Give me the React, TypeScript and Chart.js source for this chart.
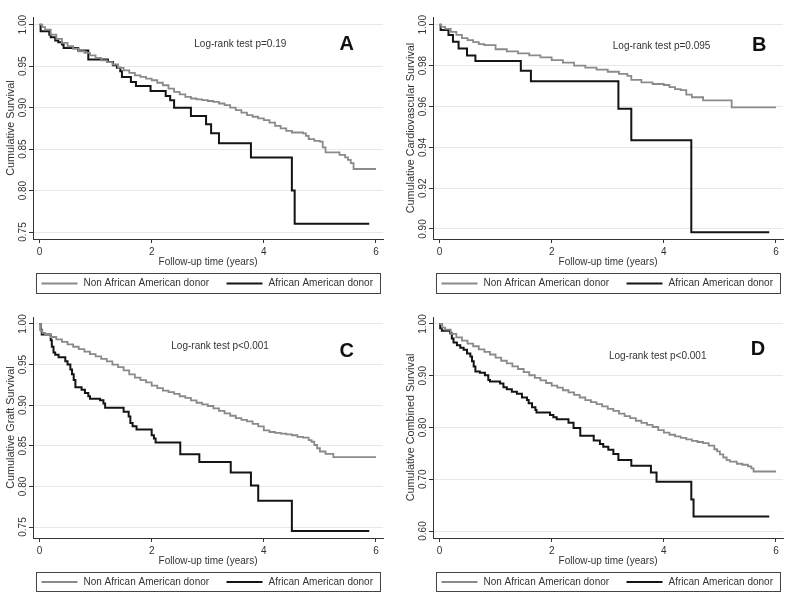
import React, { useEffect, useRef } from 'react';
import { Chart, registerables } from 'chart.js';

Chart.register(...registerables);
Chart.defaults.font.family = "'Liberation Sans', Arial, sans-serif";
Chart.defaults.color = '#333';

// ---------- shared labels / ticks ----------
const legendLabels = ['Non African American donor', 'African American donor'];
const xTitle = 'Follow-up time (years)';
const xTicks = [0, 2, 4, 6];
const yTicksA = [0.75, 0.8, 0.85, 0.9, 0.95, 1.0];
const yTicksB = [0.9, 0.92, 0.94, 0.96, 0.98, 1.0];
const yTicksC = [0.75, 0.8, 0.85, 0.9, 0.95, 1.0];
const yTicksD = [0.6, 0.7, 0.8, 0.9, 1.0];

// ---------- Panel A: overall survival ----------
const aNonAA: [number, number][] = [
  [0, 1], [0.05, 0.997], [0.1, 0.994], [0.2, 0.988], [0.3, 0.983], [0.4, 0.978], [0.5, 0.974],
  [0.6, 0.971], [0.7, 0.968], [0.8, 0.966], [0.9, 0.963], [1.0, 0.96], [1.1, 0.957], [1.2, 0.955],
  [1.3, 0.952], [1.4, 0.948], [1.5, 0.945], [1.6, 0.942], [1.7, 0.939], [1.8, 0.937], [1.9, 0.935],
  [2.0, 0.933], [2.1, 0.93], [2.2, 0.927], [2.3, 0.923], [2.4, 0.919], [2.5, 0.916], [2.6, 0.913],
  [2.7, 0.911], [2.8, 0.91], [2.9, 0.909], [3.0, 0.908], [3.1, 0.907], [3.2, 0.905], [3.3, 0.903],
  [3.4, 0.9], [3.5, 0.897], [3.6, 0.894], [3.7, 0.891], [3.8, 0.889], [3.9, 0.887], [4.0, 0.885],
  [4.1, 0.882], [4.2, 0.878], [4.3, 0.875], [4.4, 0.872], [4.5, 0.87], [4.7, 0.869], [4.75, 0.866],
  [4.8, 0.862], [4.9, 0.86], [5.0, 0.859], [5.05, 0.852], [5.1, 0.846], [5.35, 0.843], [5.45, 0.84],
  [5.5, 0.837], [5.55, 0.833], [5.6, 0.826], [6.0, 0.826],
];
const aAA: [number, number][] = [
  [0, 1], [0.02, 0.992], [0.175, 0.988], [0.2, 0.985], [0.28, 0.981], [0.335, 0.979], [0.4, 0.976],
  [0.43, 0.972], [0.69, 0.969], [0.87, 0.958], [1.22, 0.955], [1.31, 0.951], [1.38, 0.948],
  [1.44, 0.944], [1.47, 0.937], [1.63, 0.931], [1.72, 0.926], [1.98, 0.92], [2.25, 0.914],
  [2.33, 0.909], [2.4, 0.9], [2.7, 0.89], [2.97, 0.88], [3.06, 0.869], [3.2, 0.857], [3.77, 0.84],
  [4.5, 0.8], [4.55, 0.76], [5.88, 0.76],
];

// ---------- Panel B: cardiovascular survival ----------
const bNonAA: [number, number][] = [
  [0, 1], [0.03, 0.999], [0.1, 0.998], [0.2, 0.9965], [0.3, 0.995], [0.4, 0.9935], [0.5, 0.9925],
  [0.6, 0.9915], [0.7, 0.9905], [0.8, 0.99], [1.0, 0.988], [1.2, 0.987], [1.4, 0.986], [1.6, 0.985],
  [1.8, 0.984], [2.0, 0.9827], [2.2, 0.9815], [2.4, 0.98], [2.6, 0.979], [2.8, 0.978], [3.0, 0.977],
  [3.2, 0.976], [3.35, 0.975], [3.42, 0.973], [3.6, 0.9718], [3.8, 0.971], [4.0, 0.9705],
  [4.1, 0.9695], [4.2, 0.9685], [4.3, 0.968], [4.4, 0.9658], [4.5, 0.9645], [4.7, 0.963],
  [5.21, 0.9595], [6.0, 0.9595],
];
const bAA: [number, number][] = [
  [0, 1], [0.02, 0.9974], [0.16, 0.995], [0.24, 0.9917], [0.34, 0.9884], [0.49, 0.985],
  [0.64, 0.9822], [1.45, 0.9775], [1.63, 0.9724], [3.19, 0.9589], [3.42, 0.9434], [4.49, 0.8984],
  [5.88, 0.8984],
];

// ---------- Panel C: graft survival ----------
const cNonAA: [number, number][] = [
  [0, 1], [0.02, 0.992], [0.05, 0.989], [0.1, 0.987], [0.2, 0.984], [0.3, 0.981], [0.4, 0.978],
  [0.5, 0.975], [0.6, 0.972], [0.7, 0.969], [0.8, 0.966], [0.9, 0.963], [1.0, 0.96], [1.1, 0.957],
  [1.2, 0.954], [1.3, 0.95], [1.4, 0.947], [1.5, 0.943], [1.6, 0.938], [1.7, 0.934], [1.8, 0.931],
  [1.9, 0.928], [2.0, 0.924], [2.1, 0.921], [2.2, 0.918], [2.3, 0.916], [2.4, 0.914], [2.5, 0.911],
  [2.6, 0.909], [2.7, 0.906], [2.8, 0.903], [2.9, 0.901], [3.0, 0.899], [3.1, 0.896], [3.2, 0.893],
  [3.3, 0.89], [3.4, 0.887], [3.5, 0.884], [3.6, 0.882], [3.7, 0.88], [3.8, 0.877], [3.9, 0.874],
  [4.0, 0.869], [4.1, 0.867], [4.2, 0.866], [4.3, 0.865], [4.4, 0.864], [4.5, 0.863], [4.6, 0.861],
  [4.7, 0.86], [4.8, 0.857], [4.85, 0.855], [4.9, 0.851], [4.95, 0.847], [5.0, 0.843], [5.1, 0.84],
  [5.24, 0.836], [6.0, 0.836],
];
const cAA: [number, number][] = [
  [0, 1], [0.02, 0.993], [0.04, 0.987], [0.2, 0.98], [0.22, 0.972], [0.25, 0.965], [0.28, 0.962],
  [0.34, 0.959], [0.46, 0.954], [0.5, 0.95], [0.55, 0.944], [0.58, 0.938], [0.61, 0.931],
  [0.64, 0.922], [0.75, 0.919], [0.81, 0.915], [0.87, 0.911], [0.9, 0.908], [1.08, 0.906],
  [1.14, 0.902], [1.17, 0.897], [1.5, 0.892], [1.59, 0.886], [1.62, 0.878], [1.66, 0.874],
  [1.73, 0.87], [2.0, 0.863], [2.04, 0.859], [2.07, 0.854], [2.51, 0.8395], [2.85, 0.83],
  [3.41, 0.817], [3.77, 0.801], [3.9, 0.7824], [4.5, 0.745], [5.88, 0.745],
];

// ---------- Panel D: combined survival ----------
const dNonAA: [number, number][] = [
  [0, 1], [0.05, 0.993], [0.1, 0.989], [0.2, 0.981], [0.3, 0.974], [0.4, 0.968], [0.5, 0.962],
  [0.6, 0.957], [0.7, 0.951], [0.8, 0.946], [0.9, 0.941], [1.0, 0.935], [1.1, 0.929], [1.2, 0.924],
  [1.3, 0.918], [1.4, 0.913], [1.5, 0.907], [1.6, 0.901], [1.7, 0.896], [1.8, 0.891], [1.9, 0.886],
  [2.0, 0.881], [2.1, 0.877], [2.2, 0.872], [2.3, 0.868], [2.4, 0.863], [2.5, 0.858], [2.6, 0.853],
  [2.7, 0.849], [2.8, 0.845], [2.9, 0.841], [3.0, 0.836], [3.1, 0.832], [3.2, 0.827], [3.3, 0.822],
  [3.4, 0.818], [3.5, 0.813], [3.6, 0.809], [3.7, 0.805], [3.8, 0.801], [3.9, 0.795], [4.0, 0.79],
  [4.1, 0.786], [4.2, 0.783], [4.3, 0.78], [4.4, 0.777], [4.5, 0.774], [4.6, 0.772], [4.7, 0.77],
  [4.8, 0.765], [4.9, 0.758], [4.95, 0.754], [5.0, 0.748], [5.06, 0.742], [5.12, 0.737],
  [5.18, 0.734], [5.3, 0.73], [5.4, 0.728], [5.5, 0.725], [5.56, 0.721], [5.6, 0.715], [6.0, 0.715],
];
const dAA: [number, number][] = [
  [0, 1], [0.012, 0.9916], [0.042, 0.987], [0.19, 0.982], [0.22, 0.972], [0.25, 0.964], [0.31, 0.959],
  [0.37, 0.954], [0.43, 0.95], [0.49, 0.943], [0.55, 0.937], [0.58, 0.928], [0.61, 0.918],
  [0.64, 0.908], [0.72, 0.906], [0.81, 0.901], [0.87, 0.892], [0.9, 0.889], [1.08, 0.885],
  [1.14, 0.878], [1.2, 0.874], [1.29, 0.869], [1.38, 0.865], [1.47, 0.858], [1.56, 0.853],
  [1.59, 0.847], [1.65, 0.839], [1.71, 0.834], [1.73, 0.829], [1.97, 0.824], [2.03, 0.82],
  [2.09, 0.816], [2.3, 0.809], [2.39, 0.799], [2.51, 0.784], [2.75, 0.775], [2.86, 0.768],
  [2.92, 0.763], [3.01, 0.757], [3.1, 0.749], [3.19, 0.737], [3.42, 0.726], [3.77, 0.713],
  [3.87, 0.695], [4.49, 0.661], [4.53, 0.628], [5.88, 0.628],
];

const GRAY = '#8a8a8a';
const BLACK = '#141414';
const AXIS = '#333333';
const GRID = '#e2eaea';

type PanelCfg = {
  letter: string;
  yTitle: string;
  pText: string;
  gray: [number, number][];
  black: [number, number][];
  yTicks: number[];
  yDecimals: number;
  yMin: number;
  yMax: number;
  pAt: [number, number];
  letterAt: [number, number];
  left: number;
  top: number;
  height: number;
  areaTop: number;
  areaBottom: number;
  legendTop: number;
  legendH: number;
};

const panels: PanelCfg[] = [
  {
    letter: 'A', yTitle: 'Cumulative Survival', pText: 'Log-rank test p=0.19', gray: aNonAA, black: aAA,
    yTicks: yTicksA, yDecimals: 2, yMin: 0.7416, yMax: 1.0093, pAt: [3.58, 0.9767], letterAt: [5.48, 0.9767],
    left: 0, top: 0, height: 300, areaTop: 17, areaBottom: 239, legendTop: 273, legendH: 20,
  },
  {
    letter: 'B', yTitle: 'Cumulative Cardiovascular Survival', pText: 'Log-rank test p=0.095', gray: bNonAA, black: bAA,
    yTicks: yTicksB, yDecimals: 2, yMin: 0.8951, yMax: 1.0038, pAt: [3.96, 0.9896], letterAt: [5.7, 0.99],
    left: 400, top: 0, height: 300, areaTop: 17, areaBottom: 239, legendTop: 273, legendH: 20,
  },
  {
    letter: 'C', yTitle: 'Cumulative Graft Survival', pText: 'Log-rank test p<0.001', gray: cNonAA, black: cAA,
    yTicks: yTicksC, yDecimals: 2, yMin: 0.7365, yMax: 1.0086, pAt: [3.22, 0.973], letterAt: [5.48, 0.966],
    left: 0, top: 300, height: 312, areaTop: 17, areaBottom: 238, legendTop: 272, legendH: 19,
  },
  {
    letter: 'D', yTitle: 'Cumulative Combined Survival', pText: 'Log-rank test p<0.001', gray: dNonAA, black: dAA,
    yTicks: yTicksD, yDecimals: 2, yMin: 0.5865, yMax: 1.0135, pAt: [3.89, 0.937], letterAt: [5.68, 0.95],
    left: 400, top: 300, height: 312, areaTop: 17, areaBottom: 238, legendTop: 272, legendH: 19,
  },
];

const X_SCALE_H = 29;

function makeOverlay(cfg: PanelCfg) {
  return {
    id: 'overlay' + cfg.letter,
    afterDraw(chart: any) {
      const ctx = chart.ctx as CanvasRenderingContext2D;
      const xs = chart.scales.x;
      const ys = chart.scales.y;
      ctx.save();
      // log-rank annotation
      ctx.fillStyle = '#333';
      ctx.font = "10px 'Liberation Sans', Arial, sans-serif";
      ctx.textAlign = 'center';
      ctx.textBaseline = 'middle';
      ctx.fillText(cfg.pText, xs.getPixelForValue(cfg.pAt[0]), ys.getPixelForValue(cfg.pAt[1]));
      // panel letter
      ctx.fillStyle = '#111';
      ctx.font = "bold 20px 'Liberation Sans', Arial, sans-serif";
      ctx.fillText(cfg.letter, xs.getPixelForValue(cfg.letterAt[0]), ys.getPixelForValue(cfg.letterAt[1]));

      // legend box
      const bx = 36.5;
      const bw = 344;
      const by = cfg.legendTop + 0.5;
      const bh = cfg.legendH;
      ctx.strokeStyle = '#444';
      ctx.lineWidth = 1;
      ctx.strokeRect(bx, by, bw, bh);
      const my = by + bh / 2;
      const items = [
        { color: GRAY, width: 1.8, x0: bx + 5, label: legendLabels[0] },
        { color: BLACK, width: 2, x0: bx + 190, label: legendLabels[1] },
      ];
      ctx.font = "10px 'Liberation Sans', Arial, sans-serif";
      ctx.textAlign = 'left';
      for (const it of items) {
        ctx.strokeStyle = it.color;
        ctx.lineWidth = it.width;
        ctx.beginPath();
        ctx.moveTo(it.x0, my);
        ctx.lineTo(it.x0 + 36, my);
        ctx.stroke();
        ctx.fillStyle = '#333';
        ctx.fillText(it.label, it.x0 + 42, my);
      }
      ctx.restore();
    },
  };
}

function Panel({ cfg }: { cfg: PanelCfg }) {
  const ref = useRef<HTMLCanvasElement>(null);
  useEffect(() => {
    const canvas = ref.current!;
    const xScaleBottom = cfg.areaBottom + X_SCALE_H;
    const chart = new Chart(canvas, {
      type: 'line',
      data: {
        datasets: [
          {
            label: legendLabels[0],
            data: cfg.gray.map(([x, y]) => ({ x, y })),
            borderColor: GRAY,
            borderWidth: 1.8,
            stepped: 'before',
            pointRadius: 0,
            fill: false,
          },
          {
            label: legendLabels[1],
            data: cfg.black.map(([x, y]) => ({ x, y })),
            borderColor: BLACK,
            borderWidth: 2,
            stepped: 'before',
            pointRadius: 0,
            fill: false,
          },
        ],
      },
      options: {
        animation: false,
        responsive: false,
        events: [],
        layout: {
          padding: { left: 0, right: 17, top: cfg.areaTop, bottom: cfg.height - xScaleBottom },
        },
        plugins: {
          legend: { display: false },
          tooltip: { enabled: false },
        },
        scales: {
          x: {
            type: 'linear',
            min: -0.116,
            max: 6.125,
            afterBuildTicks: (s: any) => {
              s.ticks = xTicks.map((v) => ({ value: v }));
            },
            afterFit: (s: any) => {
              s.height = X_SCALE_H;
            },
            grid: { drawOnChartArea: false, drawTicks: true, tickLength: 4, tickColor: AXIS },
            border: { display: true, color: AXIS, width: 1 },
            ticks: {
              padding: 3,
              color: '#333',
              font: { size: 10 },
              maxRotation: 0,
              callback: (v: any) => String(v),
            },
            title: {
              display: true,
              text: xTitle,
              padding: { top: 0, bottom: 0 },
              font: { size: 10 },
              color: '#333',
            },
          },
          y: {
            type: 'linear',
            min: cfg.yMin,
            max: cfg.yMax,
            afterBuildTicks: (s: any) => {
              s.ticks = cfg.yTicks.map((v) => ({ value: v }));
            },
            afterFit: (s: any) => {
              s.width = 33;
            },
            grid: { color: GRID, lineWidth: 1, drawTicks: true, tickLength: 4, tickColor: AXIS },
            border: { display: true, color: AXIS, width: 1 },
            ticks: {
              minRotation: 90,
              maxRotation: 90,
              crossAlign: 'center',
              padding: -3.5,
              color: '#333',
              font: { size: 10 },
              callback: (v: any) => Number(v).toFixed(cfg.yDecimals),
            },
            title: {
              display: true,
              text: cfg.yTitle,
              padding: { top: 4.5, bottom: 0 },
              font: { size: 10.8 },
              color: '#333',
            },
          },
        },
      } as any,
      plugins: [makeOverlay(cfg)],
    });
    return () => chart.destroy();
  }, [cfg]);
  return (
    <canvas
      ref={ref}
      width={400}
      height={cfg.height}
      style={{ position: 'absolute', left: cfg.left, top: cfg.top, width: 400, height: cfg.height }}
    />
  );
}

export default function App() {
  return (
    <div style={{ position: 'absolute', left: 0, top: 0, width: 800, height: 612, background: '#fff' }}>
      {panels.map((p) => (
        <Panel key={p.letter} cfg={p} />
      ))}
    </div>
  );
}
